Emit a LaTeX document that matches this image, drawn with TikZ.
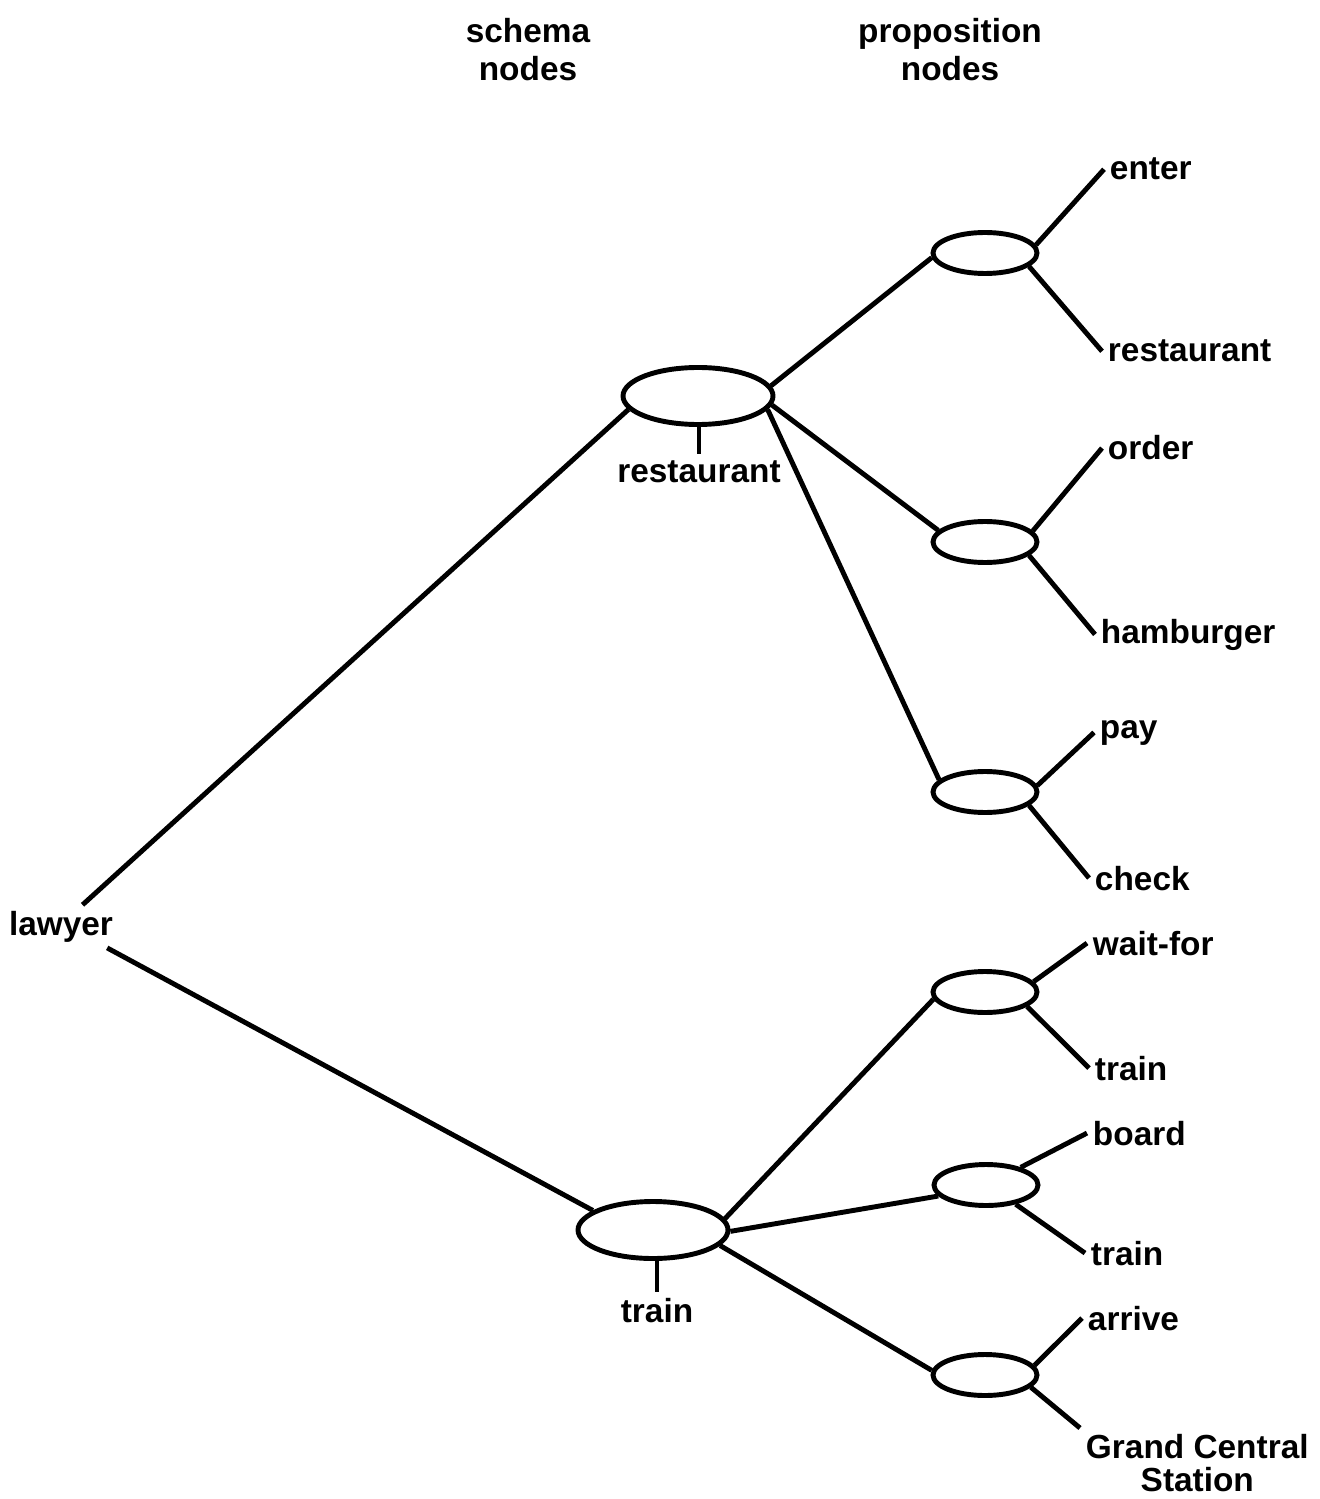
\documentclass[tikz,border=0pt]{standalone}
\usepackage{fontspec}
\setmainfont{Liberation Sans}
\usetikzlibrary{shapes.geometric}

\begin{document}
\begin{tikzpicture}[line width=1.4pt,
    schema/.style={shape=ellipse,draw=black,minimum width=1.5cm,minimum height=0.57cm,inner sep=0pt},
    prop/.style={shape=ellipse,draw=black,minimum width=1.04cm,minimum height=0.41cm,inner sep=0pt},
    word/.style={inner sep=1pt,font=\bfseries\fontsize{9.5}{11}\selectfont}]
                    \useasboundingbox (0,0) rectangle (13.2,-14.99);

                    \node[word,align=center,anchor=north] (H1) at (5.28,-0.12) {schema\\nodes};
                    \node[word,align=center,anchor=north] (H2) at (9.50,-0.12) {proposition\\nodes};

                    \node[word,anchor=base] (L) at (0.61,-9.35) {lawyer};

                    \node[schema] (R) at (6.98,-3.96) {};
                    \node[schema] (T) at (6.53,-12.30) {};
                    \node[word,anchor=base] (Rl) at (6.99,-4.82) {restaurant};
                    \node[word,anchor=base] (Tl) at (6.57,-13.22) {train};

                    \node[prop] (P1) at (9.85,-2.53) {};
                    \node[prop] (P2) at (9.85,-5.42) {};
                    \node[prop] (P3) at (9.85,-7.92) {};
                    \node[prop] (P4) at (9.85,-9.92) {};
                    \node[prop] (P5) at (9.86,-11.85) {};
                    \node[prop] (P6) at (9.85,-13.75) {};

                    \node[word,anchor=base west] (a1) at (11.04,-1.80) {enter};
                    \node[word,anchor=base west] (b1) at (11.02,-3.62) {restaurant};
                    \node[word,anchor=base west] (a2) at (11.02,-4.60) {order};
                    \node[word,anchor=base west] (b2) at (10.95,-6.43) {hamburger};
                    \node[word,anchor=base west] (a3) at (10.94,-7.38) {pay};
                    \node[word,anchor=base west] (b3) at (10.89,-8.90) {check};
                    \node[word,anchor=base west] (a4) at (10.87,-9.55) {wait-for};
                    \node[word,anchor=base west] (b4) at (10.89,-10.80) {train};
                    \node[word,anchor=base west] (a5) at (10.87,-11.45) {board};
                    \node[word,anchor=base west] (b5) at (10.85,-12.65) {train};
                    \node[word,anchor=base west] (a6) at (10.82,-13.30) {arrive};
                    \node[word,font=\bfseries\fontsize{9.5}{9.4}\selectfont,align=center,anchor=north west] (b6) at (10.80,-14.28) {Grand Central\\Station};

                    \draw (L.45) -- (R.191);
                    \draw (L.-25) -- (T.162);
                    \draw (R.south -| Rl.north) -- (Rl.north);
                    \draw (T.south -| Tl.north) -- (Tl.north);

                    \draw (R.8) -- (P1.185);
                    \draw (R.-7) -- (P2.166);
                    \draw (R.-11) -- (P3.165);
                    \draw (T.9) -- (P4.188);
                    \draw (T.-1) -- (P5.193);
                    \draw (T.-13) -- (P6.175);

                    \draw (P1.9) -- (a1.west);
                    \draw (P1.-17) -- (b1.west);
                    \draw (P2.13) -- (a2.west);
                    \draw (P2.-17) -- (b2.west);
                    \draw (P3.7) -- (a3.west);
                    \draw (P3.-17) -- (b3.west);
                    \draw (P4.12) -- (a4.west);
                    \draw (P4.-19) -- (b4.west);
                    \draw (P5.27) -- (a5.west);
                    \draw (P5.-33) -- (b5.west);
                    \draw (P6.11) -- (a6.west);
                    \draw (P6.-15) -- (b6.north west);
                \end{tikzpicture}
\end{document}
